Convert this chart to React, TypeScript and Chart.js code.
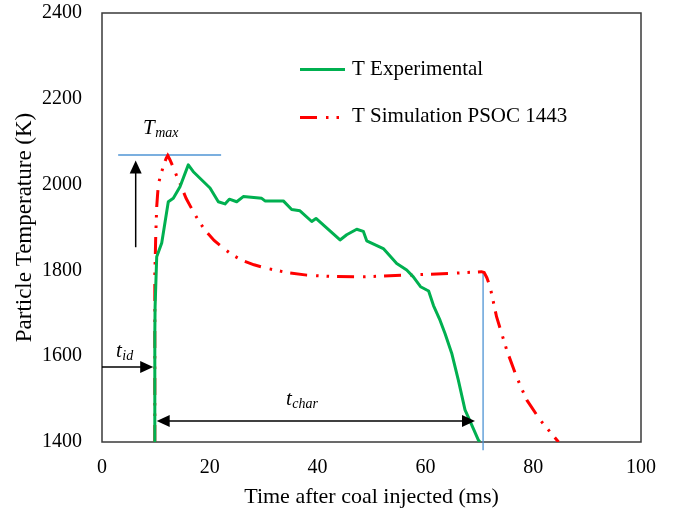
import React, { useEffect, useRef } from "react";
import { Chart, registerables } from "chart.js";

Chart.register(...registerables);

// ---------- Data ----------
const expTime = [9.8, 9.8, 9.85, 10.15, 11.08, 12.3, 13.23, 14.47, 16.01, 16.94, 20.04, 21.58, 22.82, 23.62, 24.99, 26.21, 29.63, 30.24, 33.64, 35.19, 36.73, 38.91, 39.7, 44.16, 45.4, 47.26, 48.48, 49.11, 52.19, 54.68, 56.53, 57.76, 59.1, 60.6, 61.5, 62.71, 63.64, 64.88, 66.1, 67.35, 68.59, 69.81, 70.1];
const expTemp = [1400, 1650, 1715, 1832, 1864, 1960, 1968, 1995, 2046, 2030, 1992, 1960, 1955, 1966, 1960, 1972, 1968, 1962, 1962, 1942, 1939, 1914, 1921, 1871, 1883, 1896, 1891, 1869, 1851, 1816, 1801, 1785, 1762, 1752, 1718, 1684, 1653, 1607, 1545, 1475, 1440, 1405, 1400];

const simTime = [9.8, 9.8, 9.9, 9.95, 10.05, 10.15, 10.3, 10.45, 10.75, 11.08, 11.5, 11.9, 12.2, 12.6, 13.15, 13.8, 14.47, 15.6, 16.94, 18.0, 19.11, 20.8, 22.51, 24.2, 25.92, 28.2, 30.56, 34.27, 38.0, 42.3, 48.5, 56.5, 64.6, 70.4, 70.9, 71.4, 72.0, 73.2, 75.1, 76.9, 78.8, 81.3, 84.7];
const simTemp = [1400, 1793, 1840, 1871, 1910, 1948, 1975, 1999, 2016, 2030, 2047, 2061, 2068, 2058, 2042, 2022, 2003, 1968, 1937, 1914, 1894, 1870, 1852, 1836, 1824, 1813, 1805, 1795, 1789, 1786, 1785, 1789, 1793, 1797, 1795, 1783, 1762, 1692, 1614, 1552, 1498, 1451, 1400];

// guide lines (data units)
const tmaxLineX = [3.0, 22.1];
const tmaxLineY = [2069, 2069];
const tcharLineX = [70.7, 70.7];
const tcharLineY = [1797, 1381];

// arrows (data units)
const tmaxArrow = { x: 6.25, y0: 1854, y1: 2056 };
const tidArrow = { y: 1575, x0: 0, x1: 9.5 };
const tcharArrow = { y: 1449, x0: 10.15, x1: 69.2 };

const xTicks = [0, 20, 40, 60, 80, 100];
const yTicks = [1400, 1600, 1800, 2000, 2200, 2400];

const legendLabels = ["T Experimental", "T Simulation PSOC 1443"];

const SERIF = "'Liberation Serif', 'Times New Roman', serif";
const GREEN = "#00B050";
const RED = "#FF0000";
const BLUE = "#4F94D4";
const DASH = [17, 9, 2.5, 8, 2.5, 8];

const pts = (xs: number[], ys: number[]) => xs.map((x, i) => ({ x, y: ys[i] }));

function arrowHead(ctx: CanvasRenderingContext2D, tx: number, ty: number, dx: number, dy: number) {
  const len = 13, half = 6;
  const px = -dy, py = dx;
  ctx.beginPath();
  ctx.moveTo(tx, ty);
  ctx.lineTo(tx - dx * len + px * half, ty - dy * len + py * half);
  ctx.lineTo(tx - dx * len - px * half, ty - dy * len - py * half);
  ctx.closePath();
  ctx.fill();
}

const annotations = {
  id: "annotations",
  beforeDatasetsDraw(chart: any) {
    const { ctx, chartArea } = chart;
    ctx.save();
    ctx.strokeStyle = "#3a3a3a";
    ctx.lineWidth = 1.5;
    ctx.strokeRect(chartArea.left, chartArea.top, chartArea.right - chartArea.left, chartArea.bottom - chartArea.top);
    ctx.restore();
  },
  afterDatasetsDraw(chart: any) {
    const { ctx, chartArea } = chart;
    const xs = chart.scales.x, ys = chart.scales.y;
    const X = (v: number) => xs.getPixelForValue(v);
    const Y = (v: number) => ys.getPixelForValue(v);
    ctx.save();
    ctx.strokeStyle = "#000";
    ctx.fillStyle = "#000";
    ctx.lineWidth = 1.5;
    // Tmax arrow (up)
    const ax = X(tmaxArrow.x);
    ctx.beginPath();
    ctx.moveTo(ax, Y(tmaxArrow.y0));
    ctx.lineTo(ax, Y(tmaxArrow.y1) + 10);
    ctx.stroke();
    arrowHead(ctx, ax, Y(tmaxArrow.y1), 0, -1);
    // tid arrow (right)
    let ay = Y(tidArrow.y);
    ctx.beginPath();
    ctx.moveTo(X(tidArrow.x0), ay);
    ctx.lineTo(X(tidArrow.x1) - 10, ay);
    ctx.stroke();
    arrowHead(ctx, X(tidArrow.x1), ay, 1, 0);
    // tchar double arrow
    ay = Y(tcharArrow.y);
    ctx.beginPath();
    ctx.moveTo(X(tcharArrow.x0) + 10, ay);
    ctx.lineTo(X(tcharArrow.x1) - 10, ay);
    ctx.stroke();
    arrowHead(ctx, X(tcharArrow.x0), ay, -1, 0);
    arrowHead(ctx, X(tcharArrow.x1), ay, 1, 0);

    // italic labels
    const lab = (main: string, sub: string, x: number, y: number) => {
      ctx.textBaseline = "alphabetic";
      ctx.textAlign = "left";
      ctx.font = `italic 21px ${SERIF}`;
      ctx.fillText(main, x, y);
      const w = ctx.measureText(main).width;
      ctx.font = `italic 14px ${SERIF}`;
      ctx.fillText(sub, x + w + 0.5, y + 3);
    };
    lab("T", "max", 143, 134);
    lab("t", "id", 116, 357);
    lab("t", "char", 286, 405);

    // legend
    const lx0 = chartArea.left + 198, lx1 = chartArea.left + 243;
    ctx.lineWidth = 3;
    ctx.strokeStyle = GREEN;
    ctx.beginPath();
    ctx.moveTo(lx0, 69.5);
    ctx.lineTo(lx1, 69.5);
    ctx.stroke();
    ctx.strokeStyle = RED;
    ctx.setLineDash(DASH);
    ctx.beginPath();
    ctx.moveTo(lx0, 117.5);
    ctx.lineTo(lx1, 117.5);
    ctx.stroke();
    ctx.setLineDash([]);
    ctx.font = `21px ${SERIF}`;
    ctx.fillStyle = "#000";
    ctx.textBaseline = "middle";
    ctx.fillText(legendLabels[0], lx1 + 7, 69);
    ctx.fillText(legendLabels[1], lx1 + 7, 116);
    ctx.restore();
  },
};

export default function App() {
  const ref = useRef<HTMLCanvasElement>(null);
  useEffect(() => {
    document.body.style.margin = "0";
    const chart = new Chart(ref.current as HTMLCanvasElement, {
      type: "line",
      data: {
        datasets: [
          { label: legendLabels[0], data: pts(expTime, expTemp), borderColor: GREEN, borderWidth: 3, pointRadius: 0, tension: 0, fill: false, borderJoinStyle: "round" },
          { label: legendLabels[1], data: pts(simTime, simTemp), borderColor: RED, borderWidth: 3, borderDash: DASH, pointRadius: 0, tension: 0, fill: false },
          { label: "tmax", data: pts(tmaxLineX, tmaxLineY), borderColor: BLUE, borderWidth: 1.3, pointRadius: 0, fill: false },
          { label: "tchar", data: pts(tcharLineX, tcharLineY), borderColor: BLUE, borderWidth: 1.3, pointRadius: 0, fill: false, clip: false } as any,
        ],
      },
      options: {
        animation: false,
        responsive: false,
        layout: { padding: { top: 13, right: 34, left: 0, bottom: 0 } },
        plugins: { legend: { display: false }, tooltip: { enabled: false } },
        scales: {
          x: {
            type: "linear",
            min: 0,
            max: 100,
            afterBuildTicks: (s: any) => { s.ticks = xTicks.map((v) => ({ value: v })); },
            afterFit: (s: any) => { s.height = 77; s.paddingLeft = 0; s.paddingRight = 0; },
            grid: { display: false, drawTicks: false, tickLength: 0 },
            border: { display: false },
            ticks: { font: { family: SERIF, size: 20 }, color: "#000", padding: 14, callback: (v: any) => String(v) },
            title: { display: true, text: "Time after coal injected (ms)", font: { family: SERIF, size: 22 }, color: "#000", padding: { top: 0, bottom: 9 } },
          },
          y: {
            type: "linear",
            min: 1400,
            max: 2400,
            afterBuildTicks: (s: any) => { s.ticks = yTicks.map((v) => ({ value: v })); },
            afterFit: (s: any) => { s.width = 102; s.paddingTop = 0; s.paddingBottom = 0; },
            grid: { display: false, drawTicks: false, tickLength: 0 },
            border: { display: false },
            ticks: { font: { family: SERIF, size: 20 }, color: "#000", padding: 20, callback: (v: any) => String(v) },
            title: { display: true, text: "Particle Temperature (K)", font: { family: SERIF, size: 23 }, color: "#000", padding: { top: 11, bottom: 0 } },
          },
        },
      },
      plugins: [annotations],
    });
    return () => chart.destroy();
  }, []);
  return (
    <div style={{ width: 675, height: 519 }}>
      <canvas ref={ref} width={675} height={519} />
    </div>
  );
}
